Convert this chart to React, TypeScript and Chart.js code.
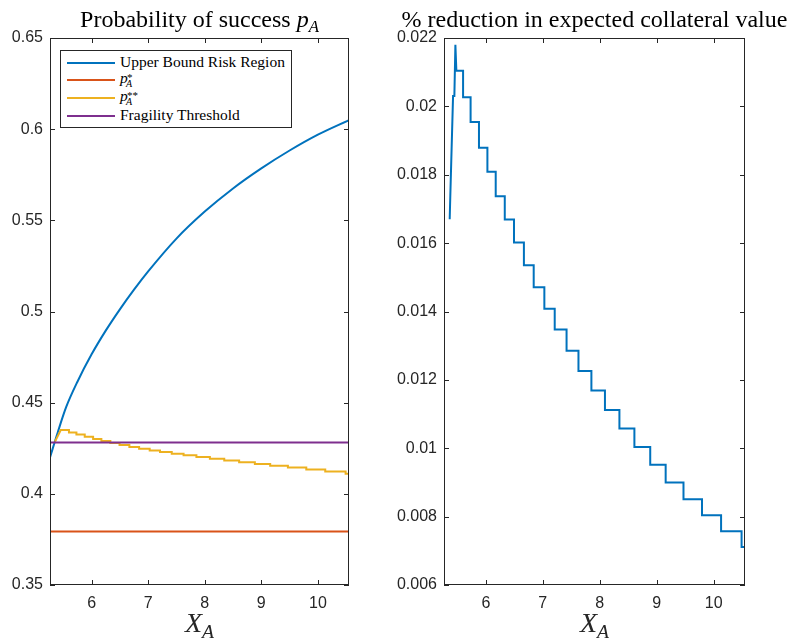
import React, { useEffect, useRef } from 'react';
import { Chart, registerables } from 'chart.js';

Chart.register(...registerables);

// ---------- data ----------
const xLimits = [5.265, 10.55];
const xTicks = [6, 7, 8, 9, 10];
const xTickLabels = ['6', '7', '8', '9', '10'];

const leftYLimits = [0.35, 0.65];
const leftYTicks = [0.35, 0.4, 0.45, 0.5, 0.55, 0.6, 0.65];
const leftYTickLabels = ['0.35', '0.4', '0.45', '0.5', '0.55', '0.6', '0.65'];

const rightYLimits = [0.006, 0.022];
const rightYTicks = [0.006, 0.008, 0.01, 0.012, 0.014, 0.016, 0.018, 0.02, 0.022];
const rightYTickLabels = ['0.006', '0.008', '0.01', '0.012', '0.014', '0.016', '0.018', '0.02', '0.022'];

// Upper Bound Risk Region
const upperBoundX = [5.265, 5.4, 5.55, 5.75, 6.0, 6.25, 6.5, 6.75, 7.0, 7.5, 8.0, 8.5, 9.0, 9.5, 10.0, 10.55];
const upperBoundY = [0.42, 0.4335, 0.4475, 0.4615, 0.4765, 0.4895, 0.5012, 0.512, 0.522, 0.54, 0.5548, 0.5675, 0.5785, 0.5883, 0.597, 0.605];

// p*_A and fragility threshold (constant levels)
const pStarValue = 0.3793;
const fragilityValue = 0.4281;

// x positions where the stepped series change level
const stepBreaks = [5.6, 5.732, 5.879, 6.027, 6.173, 6.332, 6.494, 6.668, 6.84, 7.027, 7.209, 7.417, 7.626,
  7.853, 8.091, 8.345, 8.608, 8.886, 9.157, 9.47, 9.795, 10.13, 10.49];

// p**_A
const pStarStarHeadX = [5.352, 5.455];
const pStarStarHeadY = [0.4286, 0.435];
const pStarStarLevels = [0.435, 0.4337, 0.4325, 0.4313, 0.4301, 0.429, 0.4279, 0.4268, 0.4257, 0.4247,
  0.4238, 0.4229, 0.422, 0.4212, 0.4202, 0.4193, 0.4183, 0.4173, 0.4164, 0.4154, 0.4144, 0.4133, 0.4122, 0.411];

// % reduction in expected collateral value
const reductionHeadX = [5.365, 5.376, 5.424, 5.447, 5.465, 5.482];
const reductionHeadY = [0.0167, 0.0174, 0.0203, 0.0203, 0.0218, 0.02104];
const reductionLevels = [0.02104, 0.02027, 0.01954, 0.01879, 0.01809, 0.01737, 0.01669, 0.01602, 0.01535,
  0.01471, 0.01408, 0.01347, 0.01285, 0.01226, 0.01169, 0.01112, 0.01058, 0.01004, 0.00952, 0.009,
  0.00851, 0.00804, 0.00757, 0.00711];

// ---------- helpers ----------
type Pt = { x: number; y: number };
const zip = (xs: number[], ys: number[]): Pt[] => xs.map((x, i) => ({ x, y: ys[i] }));
const buildSteps = (hx: number[], hy: number[], levels: number[], breaks: number[], xEnd: number): Pt[] => {
  const pts = zip(hx, hy);
  let start = hx[hx.length - 1];
  levels.forEach((lv, i) => {
    const end = i < breaks.length ? breaks[i] : xEnd;
    pts.push({ x: start, y: lv });
    pts.push({ x: end, y: lv });
    start = end;
  });
  return pts;
};

const AX = '#262626';
const BLUE = '#0072BD';
const ORANGE = '#D95319';
const YELLOW = '#EDB120';
const PURPLE = '#7E2F8E';

const framePlugin = {
  id: 'matlabFrame',
  afterDatasetsDraw(chart: any) {
    const { ctx, chartArea, scales } = chart;
    const { left, right, top, bottom } = chartArea;
    const len = 5;
    ctx.save();
    ctx.strokeStyle = AX;
    ctx.lineWidth = 1;
    ctx.beginPath();
    scales.x.ticks.forEach((t: any) => {
      const px = Math.round(scales.x.getPixelForValue(t.value)) + 0.5;
      ctx.moveTo(px, bottom);
      ctx.lineTo(px, bottom - len);
      ctx.moveTo(px, top);
      ctx.lineTo(px, top + len);
    });
    scales.y.ticks.forEach((t: any) => {
      const py = Math.round(scales.y.getPixelForValue(t.value)) + 0.5;
      ctx.moveTo(left, py);
      ctx.lineTo(left + len, py);
      ctx.moveTo(right, py);
      ctx.lineTo(right - len, py);
    });
    ctx.stroke();
    ctx.strokeRect(Math.round(left) + 0.5, Math.round(top) + 0.5, Math.round(right - left) - 1, Math.round(bottom - top) - 1);
    ctx.restore();
  },
};

const tickFont = { family: '"Liberation Sans", Arial, sans-serif', size: 16 };

const makeOptions = (yLim: number[], yTicks: number[], yLabels: string[], rightPad: number) => ({
  responsive: false,
  maintainAspectRatio: false,
  animation: false as const,
  layout: { padding: { left: 0, right: rightPad, top: 38, bottom: 0 } },
  plugins: { legend: { display: false }, tooltip: { enabled: false }, title: { display: false } },
  elements: { point: { radius: 0 } },
  scales: {
    x: {
      type: 'linear' as const,
      min: xLimits[0],
      max: xLimits[1],
      grid: { display: false, drawTicks: false },
      border: { display: false },
      afterBuildTicks: (s: any) => { s.ticks = xTicks.map((v) => ({ value: v })); },
      afterFit: (s: any) => { s.height = 53; },
      ticks: { padding: 9, color: AX, font: tickFont, maxRotation: 0, autoSkip: false, callback: (_v: any, i: number) => xTickLabels[i] },
    },
    y: {
      type: 'linear' as const,
      min: yLim[0],
      max: yLim[1],
      grid: { display: false, drawTicks: false },
      border: { display: false },
      afterBuildTicks: (s: any) => { s.ticks = yTicks.map((v) => ({ value: v })); },
      afterFit: (s: any) => { s.width = 50; },
      ticks: { padding: 7, color: AX, font: tickFont, autoSkip: false, callback: (_v: any, i: number) => yLabels[i] },
    },
  },
});

const serif = '"Liberation Serif", "Times New Roman", serif';

const Sub = ({ children }: { children: any }) => (
  <i style={{ fontSize: '0.7em', position: 'relative', top: '0.3em' }}>{children}</i>
);

// p with a superscript and an A subscript stacked (legend size 15.5px)
const PSym = ({ sup }: { sup: string }) => (
  <span style={{ position: 'relative', display: 'inline-block', width: 20, height: 16 }}>
    <i style={{ position: 'absolute', left: 0, top: 0 }}>p</i>
    <span style={{ position: 'absolute', left: 7, top: 2, fontSize: 11, lineHeight: 1 }}>{sup}</span>
    <i style={{ position: 'absolute', left: 6, top: 9, fontSize: 10, lineHeight: 1 }}>A</i>
  </span>
);

export default function App() {
  const leftRef = useRef<HTMLCanvasElement>(null);
  const rightRef = useRef<HTMLCanvasElement>(null);

  useEffect(() => {
    const lineDs = (label: string, data: Pt[], color: string, order: number) => ({
      label, data, borderColor: color, backgroundColor: color, borderWidth: 2, pointRadius: 0, fill: false, order,
    });
    const left = new Chart(leftRef.current as HTMLCanvasElement, {
      type: 'line',
      data: {
        datasets: [
          { ...lineDs('Upper Bound Risk Region', zip(upperBoundX, upperBoundY), BLUE, 4), cubicInterpolationMode: 'monotone' as const },
          lineDs('p*_A', zip(xLimits, [pStarValue, pStarValue]), ORANGE, 3),
          lineDs('p**_A', buildSteps(pStarStarHeadX, pStarStarHeadY, pStarStarLevels, stepBreaks, xLimits[1]), YELLOW, 2),
          lineDs('Fragility Threshold', zip(xLimits, [fragilityValue, fragilityValue]), PURPLE, 1),
        ],
      },
      options: makeOptions(leftYLimits, leftYTicks, leftYTickLabels, 45) as any,
      plugins: [framePlugin],
    });
    const right = new Chart(rightRef.current as HTMLCanvasElement, {
      type: 'line',
      data: {
        datasets: [
          lineDs('% reduction', buildSteps(reductionHeadX, reductionHeadY, reductionLevels, stepBreaks, xLimits[1]), BLUE, 1),
        ],
      },
      options: makeOptions(rightYLimits, rightYTicks, rightYTickLabels, 43) as any,
      plugins: [framePlugin],
    });
    return () => { left.destroy(); right.destroy(); };
  }, []);

  const titleStyle = (center: number): React.CSSProperties => ({
    position: 'absolute', left: center - 300, width: 600, top: 7, textAlign: 'center',
    fontFamily: serif, fontSize: 24, lineHeight: 1, whiteSpace: 'nowrap', color: '#000',
  });
  const xLabelStyle = (center: number): React.CSSProperties => ({
    position: 'absolute', left: center - 100, width: 200, top: 609, textAlign: 'center',
    fontFamily: serif, fontSize: 28, lineHeight: 1, whiteSpace: 'nowrap', color: AX,
  });
  const legendRows = [
    { color: BLUE, top: 12.7, textTop: 3.7, content: <span>Upper Bound Risk Region</span> },
    { color: ORANGE, top: 30, textTop: 20.3, content: <PSym sup="*" /> },
    { color: YELLOW, top: 48.3, textTop: 37.7, content: <PSym sup="**" /> },
    { color: PURPLE, top: 65.7, textTop: 57, content: <span>Fragility Threshold</span> },
  ];

  return (
    <div style={{ position: 'fixed', left: 0, top: 0, width: 788, height: 638, overflow: 'hidden', background: '#fff' }}>
      <canvas ref={leftRef} width={394} height={638} style={{ position: 'absolute', left: 0, top: 0, width: 394, height: 638 }} />
      <canvas ref={rightRef} width={394} height={638} style={{ position: 'absolute', left: 394, top: 0, width: 394, height: 638 }} />
      <div style={titleStyle(199.5)}>Probability of success <i>p</i><Sub>A</Sub></div>
      <div style={titleStyle(594.5)}>% reduction in expected collateral value</div>
      <div style={xLabelStyle(199.5)}><i>X</i><Sub>A</Sub></div>
      <div style={xLabelStyle(594.5)}><i>X</i><Sub>A</Sub></div>
      <div style={{ position: 'absolute', left: 60, top: 50, width: 232, height: 78, boxSizing: 'border-box', border: `1px solid ${AX}`, background: '#fff' }}>
        {legendRows.map((r, i) => (
          <React.Fragment key={i}>
            <div style={{ position: 'absolute', left: 6, top: r.top - 2, width: 48, height: 2, background: r.color }} />
            <div style={{ position: 'absolute', left: 59, top: r.textTop - 1, fontFamily: serif, fontSize: 15.5, lineHeight: 1, whiteSpace: 'nowrap', color: '#000' }}>{r.content}</div>
          </React.Fragment>
        ))}
      </div>
    </div>
  );
}
